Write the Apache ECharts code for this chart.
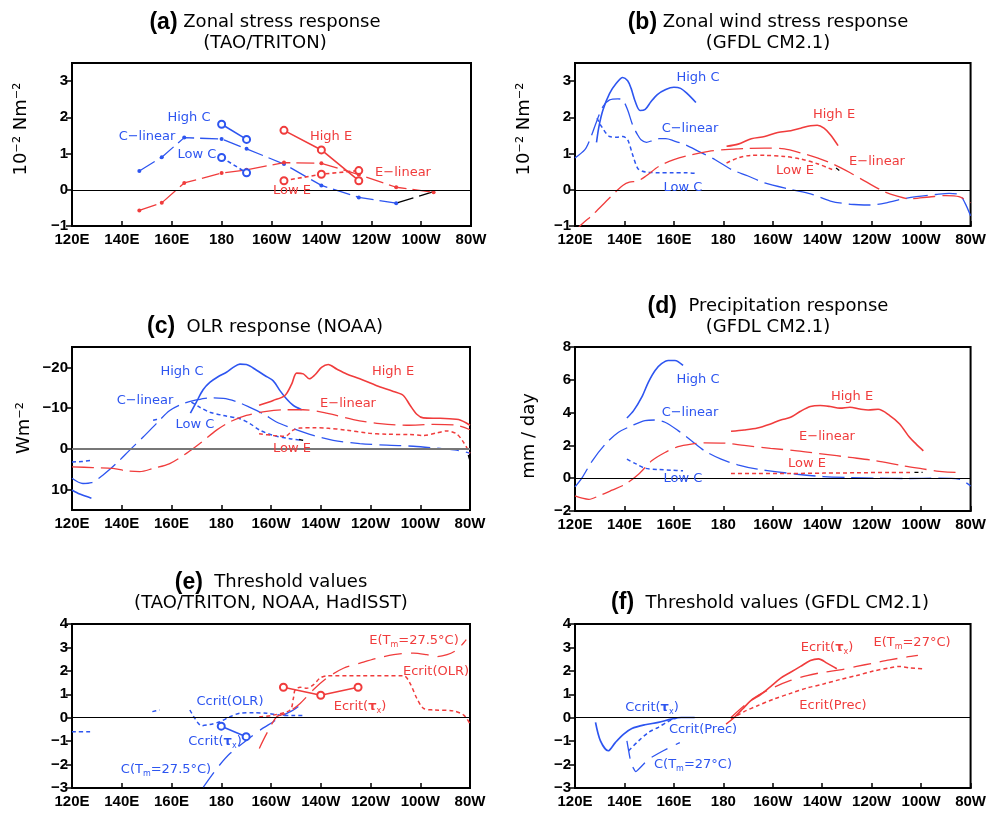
<!DOCTYPE html>
<html><head><meta charset="utf-8">
<script src="https://cdn.jsdelivr.net/npm/echarts@6/dist/echarts.min.js"></script>
<style>html,body{margin:0;padding:0;background:#fff}#c{width:989px;height:817px}</style>
</head><body><div id="c"></div>
<script>
// ---------- tick labels ----------
const xTickLabels = ['120E','140E','160E','180','160W','140W','120W','100W','80W'];
const yTicksA = [-1,0,1,2,3];
const yTicksC = [-20,-10,0,10];
const yTicksD = [-2,0,2,4,6,8];
const yTicksE = [-3,-2,-1,0,1,2,3,4];

// ---------- (a) TAO/TRITON zonal stress ----------
const taoLon = [147,156,165,180,190,205,220,235,250];
const a_cLinear = [0.52,0.90,1.44,1.40,1.13,0.71,0.12,-0.21,-0.37];
const a_cLinearEndLon = [250,265];
const a_cLinearEnd = [-0.37,-0.05];
const a_eLinearLon = [147,156,165,180,190,205,220,235,250,265];
const a_eLinear = [-0.57,-0.36,0.19,0.46,0.55,0.75,0.73,0.42,0.07,-0.07];
const a_cLon = [180,190];
const a_highC = [1.81,1.39];
const a_lowC = [0.89,0.47];
const a_eLon = [205,220,235];
const a_highE = [1.64,1.10,0.25];
const a_lowE = [0.25,0.43,0.53];

// ---------- (b) GFDL zonal wind stress ----------
const b_highC = [[128.7,1.31],[129.7,1.75],[131.3,2.20],[134,2.66],[136.7,2.94],[139.3,3.10],[141.3,3.01],[142.7,2.80],[144.4,2.43],[146.3,2.19],[148.4,2.22],[150.7,2.43],[153.3,2.63],[156.7,2.77],[160,2.83],[162.7,2.80],[165.3,2.66],[168.9,2.41]];
const b_cLinear = [[120,0.88],[124,1.11],[126,1.38],[128.7,1.88],[131.3,2.30],[134,2.48],[137.3,2.51],[139.3,2.48],[141.3,2.20],[143.3,1.79],[145.3,1.52],[146.7,1.38],[148.9,1.31],[151.3,1.36],[154,1.41],[156.7,1.41],[160,1.35],[164.7,1.24],[170,1.06],[176.7,0.83],[183.3,0.56],[190,0.38],[196.7,0.19],[207.3,0.01],[215.3,-0.11],[223.3,-0.31],[231.3,-0.40],[239.3,-0.42],[246,-0.36],[252.7,-0.25],[258,-0.19],[266,-0.13],[271.3,-0.10],[275.3,-0.13],[277.7,-0.36],[280,-0.72]];
const b_lowC = [[128.9,1.98],[130.7,1.75],[134,1.47],[136.7,1.45],[139.3,1.47],[141.3,1.38],[143.3,0.97],[145.3,0.60],[147.3,0.51],[150,0.48],[154,0.47],[159.3,0.47],[164.7,0.47],[168.9,0.45]];
const b_highE = [[181.3,1.20],[186,1.26],[191.3,1.41],[196.7,1.47],[202,1.58],[207.3,1.63],[211.3,1.70],[215.3,1.77],[218,1.78],[220.7,1.70],[223.3,1.52],[226.4,1.22]];
const b_eLinear = [[120,-1.2],[122,-1.0],[127.3,-0.68],[132.7,-0.31],[136.7,-0.04],[139.3,0.12],[142,0.21],[145.3,0.24],[148.7,0.38],[154,0.65],[160,0.83],[167.3,0.97],[174,1.06],[180.7,1.11],[188.7,1.14],[196.7,1.15],[204.7,1.13],[211.3,1.02],[218,0.88],[224.7,0.70],[231.3,0.47],[238,0.21],[244.7,-0.04],[250,-0.17],[255.3,-0.25],[263.3,-0.20],[270,-0.16],[275.3,-0.19],[280,-0.36]];
const b_lowE = [[181.3,0.74],[186,0.88],[191.3,0.95],[196.7,0.95],[204.7,0.92],[211.3,0.85],[218,0.72],[223.3,0.58],[225.3,0.53]];
const b_black = [[225.6,0.60],[226.9,0.53]];

// ---------- (c) NOAA OLR ----------
const c_highCWest = [[120,10.1],[123.1,11.1],[127.8,12.1]];
const c_lowCWest = [[120,3.2],[124,3.1],[127.8,2.8]];
const c_lowCBit = [[152.6,-7.0],[155.3,-7.4]];
const c_highC = [[167.6,-8.8],[170,-11.5],[172.7,-14.5],[175.4,-16.3],[178.7,-17.7],[182.1,-18.8],[184.8,-20.0],[187.5,-20.8],[190.1,-20.7],[194.2,-19.3],[197.5,-18.0],[200.9,-16.7],[203.6,-14.3],[206.2,-12.3],[208.9,-10.7],[212.3,-9.6]];
const c_cLinear = [[120,7.2],[124.4,8.5],[127.8,8.3],[132.5,6.4],[137.8,3.6],[143.2,0.3],[148.6,-2.9],[153.9,-6.2],[159.3,-9.4],[164.7,-11.1],[170,-12.0],[175.4,-12.5],[180.8,-12.4],[186.1,-11.6],[191.5,-10.2],[196.9,-8.6],[202.2,-6.6],[208.9,-5.0],[217,-3.3],[225,-2.1],[235.7,-1.3],[246.5,-0.9],[257.2,-0.65],[268,-0.1],[274.6,0.3],[280,1.1]];
const c_lowC = [[168,-11.5],[171.4,-10.2],[175.4,-9.0],[180.8,-8.2],[187.5,-7.4],[191.5,-6.2],[195.5,-4.6],[200.9,-3.3],[207.6,-2.5],[212.9,-2.1]];
const c_highE = [[195.2,-10.7],[200.9,-11.9],[205.6,-13.1],[208.3,-15.9],[210.3,-18.6],[213,-18.4],[215.4,-17.2],[217.7,-18.2],[220.3,-20.0],[223,-20.7],[226.4,-19.6],[230.4,-18.4],[235.7,-17.2],[242.5,-15.5],[249.2,-14.1],[253.2,-13.1],[255.9,-10.7],[258.6,-8.5],[261.2,-7.6],[268,-7.5],[275.4,-7.2],[280,-5.8]];
const c_eLinear = [[120,4.4],[128.4,4.6],[136.5,4.8],[141.9,5.4],[147.2,5.6],[152.6,4.8],[159.3,3.6],[166,1.1],[171.4,-1.3],[178.1,-4.6],[183.4,-6.6],[190.1,-8.2],[198.2,-9.2],[206.2,-9.6],[212.9,-9.6],[222.3,-8.8],[233.1,-7.2],[243.8,-6.2],[254.5,-5.8],[265.3,-6.0],[274.6,-5.8],[280,-4.7]];
const c_lowE = [[195.2,-3.7],[200.9,-3.3],[205.6,-3.1],[208.9,-4.6],[211.6,-5.1],[217,-5.2],[222.3,-5.1],[230.4,-4.6],[238.4,-3.9],[246.5,-3.6],[255.9,-3.5],[261.2,-3.3],[266.6,-3.9],[270.6,-4.4],[274.6,-3.7],[277.3,-1.7],[280,1.1]];
const c_black = [[211.3,-2.3],[212.9,-2.1]];
const c_black2 = [[279.3,1.5],[280,2.9]];

// ---------- (d) GFDL precipitation ----------
const d_highC = [[141,3.67],[143.7,4.12],[147,4.94],[149.7,5.86],[152.4,6.57],[155,6.98],[157.7,7.18],[160.4,7.18],[163.7,6.88]];
const d_cLinear = [[120,-0.53],[122.9,0.04],[127,1.06],[132.3,2.08],[137.6,2.8],[143,3.2],[148.3,3.51],[152.4,3.55],[156.4,3.41],[161.7,2.9],[167.1,2.29],[172.4,1.67],[179.1,1.16],[185.8,0.82],[193.8,0.55],[201.8,0.39],[209.8,0.24],[220.5,0.1],[231.2,0.04],[241.9,0],[254,-0.02],[267.3,0],[275.3,-0.06],[280,-0.47]];
const d_lowC = [[141,1.16],[144.3,0.9],[148.3,0.61],[153.7,0.53],[159,0.49],[163.7,0.45]];
const d_highE = [[183.1,2.86],[188.4,2.94],[193.8,3.06],[199.1,3.31],[203.2,3.55],[207.2,3.71],[211.2,4.08],[215.2,4.37],[219.2,4.43],[223.2,4.37],[227.2,4.27],[231.2,4.33],[235.2,4.22],[238.6,4.16],[242.6,4.2],[247.3,3.82],[251.3,3.31],[255.3,2.49],[258,2.08],[260.9,1.67]];
const d_eLinear = [[120,-1.08],[122.9,-1.22],[125.6,-1.29],[129.6,-1.08],[135,-0.73],[140.3,-0.37],[145.7,0.24],[151,1.06],[156.4,1.57],[161.7,1.92],[167.1,2.08],[172.4,2.16],[180.4,2.14],[188.4,2.0],[199.1,1.82],[209.8,1.67],[220.5,1.47],[231.2,1.27],[241.9,1.06],[252.6,0.76],[260.6,0.57],[267.3,0.41],[274,0.35],[276.7,0.35]];
const d_lowE = [[183.1,0.29],[193.8,0.29],[207.2,0.29],[220.5,0.31],[233.9,0.33],[247.3,0.35],[256.6,0.35]];
const d_black = [[257.3,0.35],[260.6,0.35]];

// ---------- (e) observed thresholds ----------
const e_westC = [[120,-0.6],[127.8,-0.6]];
const e_cOLRbit = [[152.3,0.26],[155.3,0.33]];
const e_cCritOLR = [[167.4,0.33],[169.4,-0.03],[172.1,-0.34],[175.4,-0.29],[179.5,-0.17],[183.5,0.04],[187.5,0.19],[192.9,0.21],[198.3,0.19],[203.6,0.11],[209,0.09],[213,0.09]];
const e_cCritTauLon = [180,190];
const e_cCritTau = [-0.36,-0.81];
const e_cTm = [[172.8,-2.96],[178.2,-2.17],[183.5,-1.53],[190.2,-0.96],[195.6,-0.53],[201,-0.17],[205,0.11],[209,0.33],[211.7,0.54]];
const e_eTm = [[195.3,-1.31],[198.3,-0.67],[202.3,0.04],[206.3,0.19],[211.7,0.61],[217,1.19],[222.4,1.69],[229.1,2.11],[235.8,2.33],[242.6,2.54],[249.3,2.69],[257.3,2.76],[262.7,2.69],[266.7,2.61],[270.8,2.69],[274.8,2.9],[277.4,3.19],[278.5,3.33]];
const e_eCritOLR = [[195.3,0.04],[201,0.11],[207.7,0.33],[209,0.83],[209.7,1.19],[211.7,1.3],[214.4,1.26],[217,1.4],[219.7,1.69],[222.4,1.79],[235.8,1.79],[253.3,1.79],[255.9,1.47],[258.6,0.83],[261.3,0.4],[265.4,0.33],[273.4,0.29],[277.5,0.11],[279.9,-0.24]];
const e_eCritTauLon = [205,220,235];
const e_eCritTau = [1.3,0.96,1.3];

// ---------- (f) GFDL thresholds ----------
const f_cCritTau = [[128.3,-0.2],[130.3,-0.99],[133.4,-1.41],[136.3,-1.06],[139.7,-0.7],[143,-0.46],[148.3,-0.3],[153.7,-0.2],[159,-0.06],[163,0.01],[168.4,0.01]];
const f_cCritPrec = [[141.7,-1.41],[145.7,-0.99],[149.7,-0.63],[153.7,-0.41],[157.7,-0.16],[161,-0.01]];
const f_cTm = [[141,-0.99],[142.7,-1.97],[144.6,-2.3],[149.7,-1.77],[155.7,-1.41],[162.4,-1.06]];
const f_eCritTau = [[181.1,-0.27],[184.4,0.01],[187.8,0.37],[191.1,0.73],[195.1,0.99],[199.1,1.33],[203.2,1.69],[207.2,1.94],[211.2,2.19],[215.2,2.44],[218.5,2.51],[221.9,2.33],[225.9,2.09]];
const f_eTm = [[183.1,0.01],[188.4,0.51],[193.8,0.94],[200.5,1.3],[207.2,1.59],[213.9,1.8],[220.5,1.94],[227.2,2.04],[233.9,2.19],[240.6,2.33],[247.3,2.47],[254,2.59],[258.7,2.66]];
const f_eCritPrec = [[183.1,-0.06],[188.4,0.26],[193.8,0.51],[200.5,0.8],[207.2,1.04],[213.9,1.27],[220.5,1.44],[227.2,1.63],[233.9,1.8],[240.6,1.99],[247.3,2.13],[251.3,2.19],[255.3,2.13],[261.3,2.09]];

// ---------- styling / layout ----------
const B = '#2d55f0', R = '#f03c3c', K = '#000';
const LONG = [22, 7], LONGA = [18, 6], TM = [18, 9], SHORT = [4, 3];
const zip = (xs, ys) => xs.map((x, i) => [x, ys[i]]);

const grids = [
  {left: 72, top: 63, width: 399, height: 163},
  {left: 575, top: 63, width: 398, height: 163},
  {left: 72, top: 347, width: 398, height: 163},
  {left: 575, top: 347, width: 398, height: 164},
  {left: 72, top: 624, width: 398, height: 164},
  {left: 575, top: 624, width: 398, height: 164}
];
const yCfg = [
  {min: -1, max: 3.5, ticks: yTicksA},
  {min: -1, max: 3.5, ticks: yTicksA},
  {min: -25, max: 15, ticks: yTicksC, inverse: true},
  {min: -2, max: 8, ticks: yTicksD},
  {min: -3, max: 4, ticks: yTicksE},
  {min: -3, max: 4, ticks: yTicksE}
];
const tickFont = {fontFamily: '"Liberation Sans", Arial, sans-serif', fontWeight: 'bold', fontSize: 15, color: '#000'};

const xAxes = grids.map((g, i) => ({
  type: 'value', gridIndex: i, min: 120, max: 280, interval: 20,
  axisLine: {show: true, onZero: false, lineStyle: {color: '#000', width: 2}},
  axisTick: {show: true, inside: true, length: 5, lineStyle: {color: '#000', width: 1.5}},
  axisLabel: Object.assign({margin: 6, formatter: v => xTickLabels[Math.round((v - 120) / 20)] || ''}, tickFont),
  splitLine: {show: false}
}));
const yAxes = yCfg.map((c, i) => ({
  type: 'value', gridIndex: i, min: c.min, max: c.max, inverse: !!c.inverse,
  axisLine: {show: true, onZero: false, lineStyle: {color: '#000', width: 2}},
  axisTick: {show: true, inside: false, length: 6, customValues: c.ticks, lineStyle: {color: '#000', width: 1.5}},
  axisLabel: Object.assign({margin: 4, customValues: c.ticks, formatter: v => String(v).replace('-', '\u2212')}, tickFont),
  splitLine: {show: false}
}));

function L(g, data, color, dash, width, extra) {
  return Object.assign({
    type: 'line', xAxisIndex: g, yAxisIndex: g, data: data, symbol: 'none', smooth: 0.3,
    clip: true, silent: true, z: 3,
    lineStyle: {color: color, width: width || 1.5, type: dash || 'solid'}
  }, extra || {});
}
const dots = c => ({smooth: false, symbol: 'circle', symbolSize: 4, showSymbol: true, itemStyle: {color: c}});
const rings = c => ({smooth: false, symbol: 'emptyCircle', symbolSize: 7, showSymbol: true, itemStyle: {color: c, borderWidth: 1.4}});
function zero(g, color, w) {
  return {type: 'line', xAxisIndex: g, yAxisIndex: g, data: [], silent: true, z: 2,
    markLine: {silent: true, symbol: 'none', label: {show: false},
      lineStyle: {color: color, width: w, type: 'solid'}, data: [{yAxis: 0}]}};
}

const series = [
  // (a)
  zero(0, '#000', 1),
  L(0, zip(taoLon, a_cLinear), B, LONGA, 1.3, dots(B)),
  L(0, zip(a_cLinearEndLon, a_cLinearEnd), K, LONGA, 1.3, {smooth: false}),
  L(0, zip(a_eLinearLon, a_eLinear), R, LONGA, 1.3, dots(R)),
  L(0, zip(a_cLon, a_highC), B, 'solid', 1.6, rings(B)),
  L(0, zip(a_cLon, a_lowC), B, SHORT, 1.6, rings(B)),
  L(0, zip(a_eLon, a_highE), R, 'solid', 1.6, rings(R)),
  L(0, zip(a_eLon, a_lowE), R, SHORT, 1.6, rings(R)),
  // (b)
  zero(1, '#000', 1),
  L(1, b_highC, B, 'solid', 1.6),
  L(1, b_cLinear, B, LONG, 1.3),
  L(1, b_lowC, B, SHORT, 1.5),
  L(1, b_highE, R, 'solid', 1.6),
  L(1, b_eLinear, R, LONG, 1.3),
  L(1, b_lowE, R, SHORT, 1.5),
  L(1, b_black, K, 'solid', 1.3),
  // (c)
  zero(2, '#777', 2),
  L(2, c_highCWest, B, 'solid', 1.6),
  L(2, c_lowCWest, B, SHORT, 1.5),
  L(2, c_lowCBit, B, SHORT, 1.5),
  L(2, c_highC, B, 'solid', 1.6),
  L(2, c_cLinear, B, LONG, 1.3),
  L(2, c_lowC, B, SHORT, 1.5),
  L(2, c_highE, R, 'solid', 1.6),
  L(2, c_eLinear, R, LONG, 1.3),
  L(2, c_lowE, R, SHORT, 1.5),
  L(2, c_black, K, 'solid', 1.3),
  L(2, c_black2, K, 'solid', 1.3),
  // (d)
  zero(3, '#000', 1),
  L(3, d_highC, B, 'solid', 1.6),
  L(3, d_cLinear, B, LONG, 1.3),
  L(3, d_lowC, B, SHORT, 1.5),
  L(3, d_highE, R, 'solid', 1.6),
  L(3, d_eLinear, R, LONG, 1.3),
  L(3, d_lowE, R, SHORT, 1.5),
  L(3, d_black, K, SHORT, 1.3),
  // (e)
  zero(4, '#000', 1),
  L(4, e_westC, B, SHORT, 1.5),
  L(4, e_cOLRbit, B, SHORT, 1.5),
  L(4, e_cCritOLR, B, SHORT, 1.5),
  L(4, zip(e_cCritTauLon, e_cCritTau), B, 'solid', 1.6, rings(B)),
  L(4, e_cTm, B, TM, 1.3),
  L(4, e_eTm, R, TM, 1.3),
  L(4, e_eCritOLR, R, SHORT, 1.5),
  L(4, zip(e_eCritTauLon, e_eCritTau), R, 'solid', 1.6, rings(R)),
  // (f)
  zero(5, '#000', 1),
  L(5, f_cCritTau, B, 'solid', 1.7),
  L(5, f_cCritPrec, B, SHORT, 1.5),
  L(5, f_cTm, B, TM, 1.3, {smooth: 0.1}),
  L(5, f_eCritTau, R, 'solid', 1.6),
  L(5, f_eTm, R, TM, 1.3),
  L(5, f_eCritPrec, R, SHORT, 1.5)
];

// ---------- text ----------
function txt(x, y, text, color, extra) {
  const size = (extra && extra.size) || 13;
  return {
    type: 'text', x: x, y: y, z: 100, silent: true, rotation: (extra && extra.rot) || 0,
    style: {
      text: text, fill: color, font: size + 'px "DejaVu Sans", sans-serif',
      align: 'center', textAlign: 'center', verticalAlign: 'middle', textVerticalAlign: 'middle',
      lineHeight: (extra && extra.lh) || 16,
      rich: {
        s: {fontSize: 8, fontFamily: 'DejaVu Sans', fill: color, verticalAlign: 'bottom', lineHeight: 12, align: 'center'},
        t: {fontSize: 13, fontWeight: 'bold', fontFamily: 'DejaVu Sans', fill: color, lineHeight: 16, align: 'center'},
        b: {fontSize: 23, fontWeight: 'bold', fontFamily: '"Liberation Sans", Arial', fill: color, lineHeight: 21, align: 'center'},
        n: {fontSize: size, fontFamily: 'DejaVu Sans', fill: color, lineHeight: (extra && extra.lh) || 16, align: 'center'}
      }
    }
  };
}
const T18 = {size: 18, lh: 21};
const graphics = [
  // titles
  txt(265, 33, '{b|(a)}{n| Zonal stress response}\n{n|(TAO/TRITON)}', '#000', T18),
  txt(768, 33, '{b|(b)}{n| Zonal wind stress response}\n{n|(GFDL CM2.1)}', '#000', T18),
  txt(265, 327, '{b|(c)}{n|  OLR response (NOAA)}', '#000', T18),
  txt(768, 317, '{b|(d)}{n|  Precipitation response}\n{n|(GFDL CM2.1)}', '#000', T18),
  txt(271, 593, '{b|(e)}{n|  Threshold values}\n{n|(TAO/TRITON, NOAA, HadISST)}', '#000', T18),
  txt(770, 603, '{b|(f)}{n|  Threshold values (GFDL CM2.1)}', '#000', T18),
  // y-axis names
  txt(21, 129, '10\u207B\u00B2 Nm\u207B\u00B2', '#000', {size: 18, rot: Math.PI / 2}),
  txt(524, 129, '10\u207B\u00B2 Nm\u207B\u00B2', '#000', {size: 18, rot: Math.PI / 2}),
  txt(24, 428, 'Wm\u207B\u00B2', '#000', {size: 18, rot: Math.PI / 2}),
  txt(529, 436, 'mm / day', '#000', {size: 18, rot: Math.PI / 2}),
  // (a)
  txt(189, 118, 'High C', B), txt(147, 137, 'C\u2212linear', B), txt(197, 155, 'Low C', B),
  txt(331, 137, 'High E', R), txt(403, 173, 'E\u2212linear', R), txt(292, 191, 'Low E', R),
  // (b)
  txt(698, 78, 'High C', B), txt(690, 129, 'C\u2212linear', B), txt(683, 188, 'Low C', B),
  txt(834, 115, 'High E', R), txt(877, 162, 'E\u2212linear', R), txt(795, 171, 'Low E', R),
  // (c)
  txt(182, 372, 'High C', B), txt(145, 401, 'C\u2212linear', B), txt(195, 425, 'Low C', B),
  txt(393, 372, 'High E', R), txt(348, 404, 'E\u2212linear', R), txt(292, 449, 'Low E', R),
  // (d)
  txt(698, 380, 'High C', B), txt(690, 413, 'C\u2212linear', B), txt(683, 479, 'Low C', B),
  txt(852, 397, 'High E', R), txt(827, 437, 'E\u2212linear', R), txt(807, 464, 'Low E', R),
  // (e)
  txt(230, 702, 'Ccrit(OLR)', B), txt(215, 742, 'Ccrit({t|\u03C4}{s|x})', B), txt(166, 770, 'C(T{s|m}=27.5\u00B0C)', B),
  txt(414, 641, 'E(T{s|m}=27.5\u00B0C)', R), txt(436, 672, 'Ecrit(OLR)', R), txt(360, 707, 'Ecrit({t|\u03C4}{s|x})', R),
  // (f)
  txt(652, 708, 'Ccrit({t|\u03C4}{s|x})', B), txt(703, 730, 'Ccrit(Prec)', B), txt(693, 765, 'C(T{s|m}=27\u00B0C)', B),
  txt(827, 648, 'Ecrit({t|\u03C4}{s|x})', R), txt(912, 643, 'E(T{s|m}=27\u00B0C)', R), txt(833, 706, 'Ecrit(Prec)', R)
];

const chart = echarts.init(document.getElementById('c'), null, {renderer: 'canvas'});
chart.setOption({
  backgroundColor: '#fff',
  animation: false,
  grid: grids.map(g => Object.assign({show: true, borderColor: '#000', borderWidth: 2, backgroundColor: 'transparent'}, g)),
  xAxis: xAxes,
  yAxis: yAxes,
  series: series,
  graphic: {elements: graphics}
});
</script>
</body></html>
